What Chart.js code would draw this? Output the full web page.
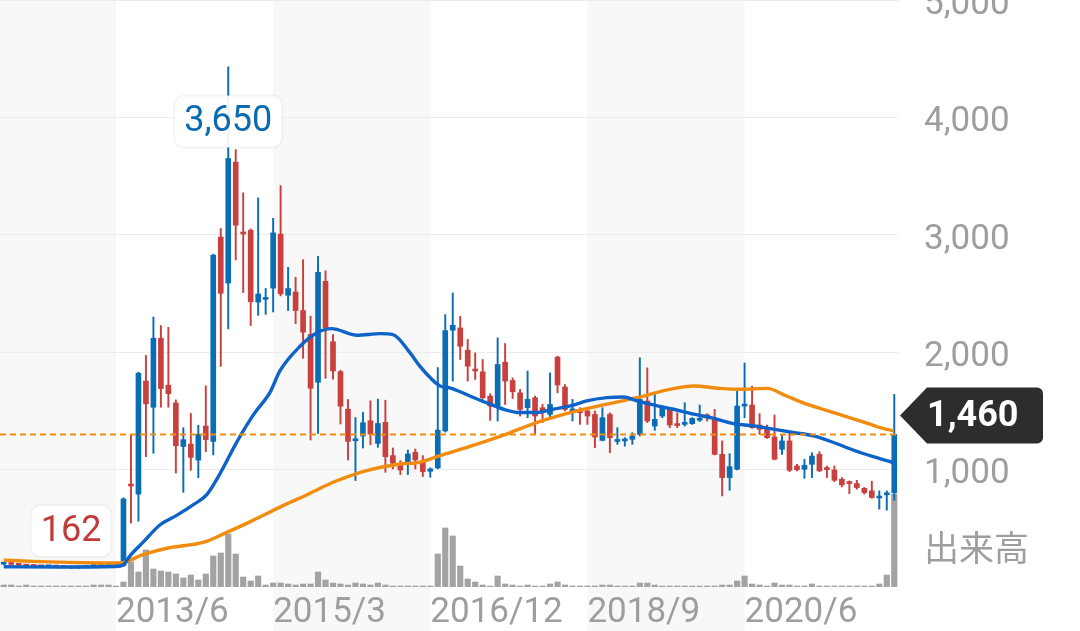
<!DOCTYPE html>
<html>
<head>
<meta charset="utf-8">
<title>株価チャート</title>
<script src="https://cdn.jsdelivr.net/npm/chart.js@4.4.1/dist/chart.umd.min.js"></script>
<style>
  html, body { margin: 0; padding: 0; background: #fff; }
  #wrap { position: relative; width: 1080px; height: 631px; overflow: hidden; }
  #chart { position: absolute; left: 0; top: 0; }
</style>
</head>
<body>
<div id="wrap"><canvas id="chart" width="1080" height="631"></canvas></div>
<script>
// monthly candles, 120 months
const open = [195,205,195,186,180,178,172,176,172,168,163,168,175,190,184,192,
  182,870,791,1754,1531,2119,1719,1568,1197,1217,1081,1371,1241,2981,2589,3619,3024,3039,2427,2450,
  2546,3006,2485,2513,2355,2151,1744,2604,2089,1835,1515,1246,1286,1416,1223,1402,1119,1042,1042,1147,
  1076,986,1014,1329,2187,2207,2017,1850,1833,1626,1541,1915,1759,1654,1527,1612,1527,1470,1958,1703,
  1500,1513,1499,1470,1249,1470,1240,1244,1258,1300,1584,1371,1456,1513,1391,1385,1391,1420,1460,1428,
  1130,932,1003,1541,1550,1380,1357,1278,1173,1244,1031,1003,1045,1130,1010,997,918,895,881,841,
  819,758,785,804];
const close = [198,192,185,178,175,172,176,170,167,162,168,175,190,184,192,185,
  750,860,1821,1560,2119,1690,1647,1203,1255,1104,1299,1255,2827,2502,3650,3082,3007,2430,2496,2465,
  3016,2497,2542,2355,2171,1693,2680,2208,1840,1540,1240,1263,1399,1303,1393,1110,1054,997,1133,1082,
  983,1006,1337,2184,2230,2051,1881,1840,1612,1541,1895,1754,1663,1513,1598,1456,1490,1555,1720,1513,
  1512,1484,1456,1278,1442,1272,1250,1250,1286,1598,1414,1428,1521,1380,1375,1395,1436,1430,1450,1130,
  932,1025,1541,1550,1357,1343,1272,1088,1244,994,1000,1037,1116,989,1000,909,870,881,847,804,
  762,766,795,1300];
const high = [205,210,198,190,185,182,180,180,176,172,174,182,198,196,200,198,
  760,1299,1830,1972,2299,2227,2212,1594,1357,1478,1377,1713,2835,3053,4431,3726,3358,3050,3314,2543,
  3140,3419,2723,2638,2788,2307,2816,2694,2151,1846,1597,1444,1489,1586,1600,1591,1184,1076,1167,1175,
  1119,1015,1869,2320,2504,2306,2108,1994,1938,1646,2122,2074,1782,1683,1839,1626,1555,1824,1966,1725,
  1598,1527,1527,1499,1527,1484,1357,1272,1315,1952,1867,1654,1541,1527,1484,1570,1442,1550,1476,1513,
  1244,1136,1669,1909,1711,1476,1380,1465,1295,1314,1045,1088,1144,1153,1031,1031,932,904,909,847,
  901,819,819,1640];
const low = [188,188,180,172,170,168,168,166,162,158,160,165,172,180,180,180,
  175,545,560,1110,1139,1531,1531,971,806,994,930,1153,1125,1879,2198,2786,2508,2227,2314,2322,
  2343,2480,2355,2242,1948,1252,1308,1778,1770,1388,1082,907,1184,1212,1190,977,1006,958,958,1006,
  941,935,1006,1320,1754,1938,1754,1768,1600,1419,1414,1555,1606,1456,1442,1300,1400,1442,1654,1499,
  1414,1385,1385,1187,1244,1144,1215,1200,1215,1286,1400,1334,1442,1357,1357,1371,1385,1410,1414,1125,
  776,824,997,1442,1351,1300,1266,1082,1130,983,989,926,932,983,932,898,853,796,833,790,
  756,663,655,739];
// volume, relative units
const volume = [2,2,1,2,1,1,1,1,1,1,1,1,2,2,2,1,
  5,25,15,37,18,16,15,13,9,12,7,13,31,34,53,33,10,6,11,2,
  4,4,3,2,3,3,15,7,4,3,2,4,3,2,4,2,1,1,1,1,
  1,1,33,59,51,21,8,5,2,1,11,3,2,1,2,1,1,3,5,2,
  1,1,1,1,2,2,1,1,1,4,4,2,1,1,1,1,1,1,1,1,
  2,2,6,11,3,2,1,4,2,2,1,1,3,1,1,1,1,1,1,1,
  1,3,12,93];

// moving averages (month index, price)
const maShortIdx = [0,7.5,14.9,16,16.9,18.6,20.9,23.1,25.3,27.1,28.9,31.1,33.4,35.6,36.9,39.6,41.8,43.8,
  47.2,50.3,52,54.3,55.6,57,58.3,59.6,62.3,64.5,66.8,69,71.2,73.4,75.7,77.9,80.6,82.8,84.6,86.8,
  89.5,92.2,94.8,97.5,100.2,102.8,105.5,108.2,110.9,113.5,116.2,118.7,119];
const maShort = [172,170,175,190,268,380,530,610,700,785,965,1230,1470,1660,1840,2051,2164,2201,
  2144,2158,2150,1994,1881,1782,1712,1697,1627,1570,1514,1486,1486,1514,1542,1585,1613,1619,1585,1551,
  1514,1472,1438,1392,1373,1345,1316,1288,1231,1167,1110,1062,1055];
const maLongIdx = [0,3.9,8.5,12.9,15.5,18.6,21.8,26.9,29.8,32.9,37.4,40.9,44,48.5,53,55.6,58.3,62.3,
  66.8,71.2,75.7,80.1,84.6,89,92.2,95.7,98.4,102,104.6,107.3,110.9,114.4,117.1,118.9];
const maLong = [229,218,210,205,204,275,330,385,465,555,695,797,892,992,1048,1062,1119,1198,
  1294,1401,1486,1551,1613,1684,1712,1692,1684,1692,1627,1557,1486,1415,1358,1330];

const tickIndex = [15, 36, 57, 78, 99];
const tickLabels = ['2013/6', '2015/3', '2016/12', '2018/9', '2020/6'];
const lastPrice = 1460;

const UP = '#0a6db5', DOWN = '#c8413f';
const idx = close.map((_, i) => i);
const candleColor = ctx => close[ctx.dataIndex] >= open[ctx.dataIndex] ? UP : DOWN;
const noPad = s => { s.paddingLeft = 0; s.paddingRight = 0; s.paddingTop = 0; s.paddingBottom = 0; };

const bandsPlugin = {
  id: 'bands',
  beforeDraw(chart) {
    const {ctx, scales: {x}, chartArea} = chart;
    const p = tickIndex.map(v => x.getPixelForValue(v));
    ctx.save();
    ctx.fillStyle = '#f8f8f8';
    [[chartArea.left, p[0]], [p[1], p[2]], [p[3], p[4]]].forEach(([a, b]) => {
      ctx.fillRect(a, 0, b - a, chart.height);
    });
    ctx.restore();
  }
};

function roundBox(ctx, x, y, w, h, r) {
  ctx.beginPath();
  ctx.moveTo(x + r, y);
  ctx.arcTo(x + w, y, x + w, y + h, r);
  ctx.arcTo(x + w, y + h, x, y + h, r);
  ctx.arcTo(x, y + h, x, y, r);
  ctx.arcTo(x, y, x + w, y, r);
  ctx.closePath();
}

const marksPlugin = {
  id: 'marks',
  afterDatasetsDraw(chart) {
    const {ctx, scales: {x, y}, chartArea} = chart;
    ctx.save();
    // last close line
    const yl = y.getPixelForValue(close[close.length - 1]);
    ctx.strokeStyle = '#f28c0f';
    ctx.lineWidth = 2;
    ctx.setLineDash([6, 4]);
    ctx.beginPath();
    ctx.moveTo(chartArea.left, yl);
    ctx.lineTo(chartArea.right, yl);
    ctx.stroke();
    ctx.setLineDash([]);

    // highest / lowest close
    const iMax = close.indexOf(Math.max(...close));
    const iMin = close.indexOf(Math.min(...close));
    ctx.font = '36px Roboto';
    ctx.textAlign = 'center';
    ctx.textBaseline = 'middle';
    [[iMax, '#0a6bb0'], [iMin, '#c23b3b']].forEach(([i, col]) => {
      const t = close[i].toLocaleString('en-US');
      const px = x.getPixelForValue(i);
      const py = y.getPixelForValue(close[i]) - 37;
      const w = ctx.measureText(t).width + 20;
      ctx.fillStyle = 'rgba(255,255,255,0.92)';
      ctx.strokeStyle = 'rgba(0,0,0,0.04)';
      roundBox(ctx, px - w / 2, py - 26, w, 52, 10);
      ctx.fill();
      ctx.stroke();
      ctx.fillStyle = col;
      ctx.fillText(t, px, py + 1);
    });
    ctx.restore();
  },
  afterDraw(chart) {
    const {ctx, scales: {y}, chartArea} = chart;
    ctx.save();
    // current price tag
    const py = y.getPixelForValue(lastPrice);
    const tip = chartArea.right + 2, bx = tip + 27, bw = 116, bh = 56, r = 6;
    ctx.fillStyle = '#2d2d2d';
    ctx.beginPath();
    ctx.moveTo(tip, py);
    ctx.lineTo(bx, py - bh / 2);
    ctx.lineTo(bx + bw - r, py - bh / 2);
    ctx.arcTo(bx + bw, py - bh / 2, bx + bw, py + bh / 2, r);
    ctx.arcTo(bx + bw, py + bh / 2, bx, py + bh / 2, r);
    ctx.lineTo(bx, py + bh / 2);
    ctx.closePath();
    ctx.fill();
    ctx.fillStyle = '#ffffff';
    ctx.font = 'bold 36px Roboto';
    ctx.textAlign = 'left';
    ctx.textBaseline = 'middle';
    ctx.fillText(lastPrice.toLocaleString('en-US'), bx, py + 1);

    // volume caption
    ctx.fillStyle = '#9e9e9e';
    ctx.font = '35px "Noto Sans CJK JP"';
    ctx.fillText('出来高', chartArea.right + 26, y.getPixelForValue(0) - 39);
    ctx.restore();
  }
};

new Chart(document.getElementById('chart'), {
  type: 'bar',
  data: {
    datasets: [
      {
        type: 'line', label: 'MA short', order: 0,
        data: maShortIdx.map((v, i) => ({x: v, y: maShort[i]})),
        borderColor: '#0d63c8', borderWidth: 3.4, pointRadius: 0,
        cubicInterpolationMode: 'monotone', yAxisID: 'y'
      },
      {
        type: 'line', label: 'MA long', order: 0,
        data: maLongIdx.map((v, i) => ({x: v, y: maLong[i]})),
        borderColor: '#f28c0f', borderWidth: 3.4, pointRadius: 0,
        cubicInterpolationMode: 'monotone', yAxisID: 'y'
      },
      {
        label: 'wick', order: 1, grouped: false,
        data: idx.map(i => ({x: i, y: [low[i], high[i]]})),
        backgroundColor: candleColor, barThickness: 1.3, yAxisID: 'y'
      },
      {
        label: 'body', order: 1, grouped: false,
        data: idx.map(i => ({x: i, y: [open[i], close[i]]})),
        backgroundColor: candleColor, barThickness: 5, minBarLength: 2, yAxisID: 'y'
      },
      {
        label: '出来高', order: 2, grouped: false,
        data: idx.map(i => ({x: i, y: volume[i]})),
        backgroundColor: '#a3a3a3', barThickness: 5.5, yAxisID: 'vol'
      }
    ]
  },
  options: {
    responsive: false,
    animation: false,
    events: [],
    layout: {padding: 0},
    plugins: {legend: {display: false}, tooltip: {enabled: false}},
    scales: {
      x: {
        type: 'linear', min: -0.5, max: 119.5, offset: false,
        grid: {display: false, offset: false}, border: {display: false},
        afterBuildTicks: s => { s.ticks = tickIndex.map(v => ({value: v})); },
        afterFit: s => { s.height = 44; noPad(s); },
        ticks: {
          autoSkip: false, maxRotation: 0, align: 'start', padding: -3,
          color: '#9e9e9e', font: {family: 'Roboto', size: 35},
          callback: v => tickLabels[tickIndex.indexOf(v)]
        }
      },
      y: {
        position: 'right', min: 0, max: 5000,
        border: {display: false},
        grid: {color: c => c.tick.value === 0 ? 'rgba(0,0,0,0)' : '#ececec', drawTicks: false},
        afterFit: s => { s.width = 182; noPad(s); },
        ticks: {
          stepSize: 1000, padding: 26,
          color: '#9e9e9e', font: {family: 'Roboto', size: 35, lineHeight: '10px'},
          // empty first line nudges the label a few px below the grid line
          callback: v => v === 0 ? '' : ['', v.toLocaleString('en-US')]
        }
      },
      vol: {display: false, min: 0, max: 587}
    }
  },
  plugins: [bandsPlugin, marksPlugin]
});
</script>
</body>
</html>
